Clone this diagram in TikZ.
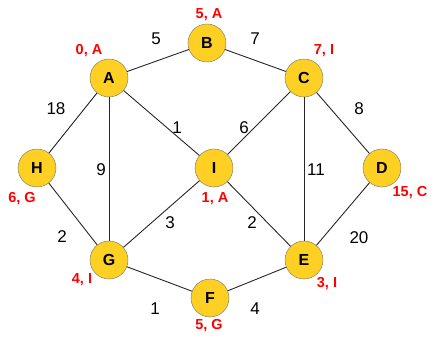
\documentclass[tikz,border=0pt]{standalone}
\usepackage{fontspec}
\setmainfont{Liberation Sans}
\usetikzlibrary{positioning}
\definecolor{vertexgold}{RGB}{253,208,35}

\begin{document}
\begin{tikzpicture}[x=1pt, y=-1pt,
    vertex/.style={circle, draw=black!55, fill=vertexgold, minimum size=38pt, inner sep=0pt,
        font=\fontsize{16}{16}\selectfont\bfseries},
    dist/.style={text=red, font=\fontsize{14.5}{14.5}\selectfont\bfseries},
    weight/.style={font=\fontsize{17}{17}\selectfont},
    edge/.style={draw=black!85, line width=0.9pt}]
    \useasboundingbox (0,0) rectangle (440,347);

    % Vertices
    \foreach \n/\x/\y in {A/109/78, B/207/43, C/304/78, H/37/168, I/214/168,
                          D/382/168, G/109/260, E/304/260, F/210/298} {
        \node[vertex] (\n) at (\x, \y) {\n};
    }

    % Edges
    \foreach \a/\b in {A/B, B/C, A/H, A/G, A/I, C/I, C/E, C/D,
                       H/G, G/I, I/E, D/E, G/F, F/E} {
        \draw[edge] (\a) -- (\b);
    }

    % Weights
    \foreach \k/\x/\y/\w in {1/156/39/5, 2/255/39/7, 3/56/109/18, 4/359/109/8,
                             5/177/128/1, 6/244/128/6, 7/101/170/9, 8/316/170/11,
                             9/170/223/3, 10/252/223/2, 11/62/237/2, 12/359/238/20,
                             13/155/309/1, 14/255/309/4} {
        \node[weight] (w\k) at (\x, \y) {\w};
    }

    % Distance, predecessor
    \foreach \n/\x/\y/\t in {A/89/51/{0, A}, B/209/15/{5, A}, C/324/51/{7, I},
                             H/22/199/{6, G}, I/215/199/{1, A}, D/410/193/{15, C},
                             G/82/280/{4, I}, E/327/284/{3, I}, F/209/326/{5, G}} {
        \node[dist] (d\n) at (\x, \y) {\t};
    }
\end{tikzpicture}
\end{document}
